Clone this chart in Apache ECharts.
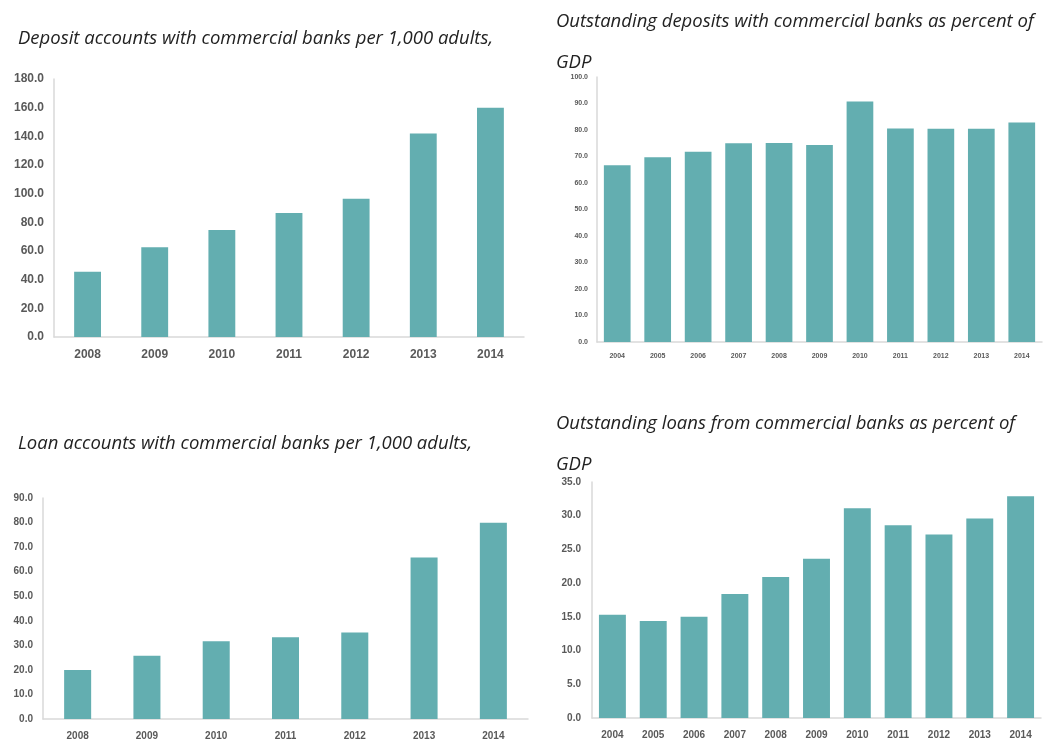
<!DOCTYPE html>
<html><head><meta charset="utf-8">
<script src="https://cdn.jsdelivr.net/npm/echarts@6/dist/echarts.min.js"></script>
<style>html,body{margin:0;padding:0;background:#fff}#c{width:1049px;height:744px}</style>
</head><body><div id="c"></div>
<script>
const years1 = ['2008','2009','2010','2011','2012','2013','2014'];
const depositAccounts = [45.6, 62.6, 74.7, 86.5, 96.5, 141.9, 160.0];
const years2 = ['2004','2005','2006','2007','2008','2009','2010','2011','2012','2013','2014'];
const depositsGDP = [66.7, 69.7, 71.8, 75.0, 75.1, 74.3, 90.8, 80.6, 80.5, 80.5, 82.8];
const loanAccounts = [20.0, 25.8, 31.7, 33.3, 35.2, 65.8, 79.9];
const loansGDP = [15.3, 14.4, 15.0, 18.4, 20.9, 23.6, 31.1, 28.6, 27.2, 29.6, 32.9];
const titles = [
  'Deposit accounts with commercial banks per 1,000 adults,',
  'Outstanding deposits with commercial banks as percent of\nGDP',
  'Loan accounts with commercial banks per 1,000 adults,',
  'Outstanding loans from commercial banks as percent of\nGDP'
];

const BAR = '#63aeb0';
const LBL = '#595959';
const AX = '#d9d9d9';
const chart = echarts.init(document.getElementById('c'));

function titleCfg(text, left, top) {
  return { text, left, top, padding: 0, textStyle: { fontFamily: 'Open Sans', fontStyle: 'italic', fontWeight: 'normal', fontSize: 18.5, color: '#222', lineHeight: 41 } };
}
function xAx(gi, data, fs, margin) {
  return { type: 'category', gridIndex: gi, data, axisTick: { show: false },
    axisLine: { lineStyle: { color: AX, width: 1.5 } },
    axisLabel: { color: LBL, fontFamily: 'Liberation Sans', fontWeight: 'bold', fontSize: fs, margin } };
}
function yAx(gi, max, interval, fs, margin) {
  return { type: 'value', gridIndex: gi, min: 0, max, interval, splitLine: { show: false },
    axisLine: { show: true, lineStyle: { color: AX, width: 1.5 } }, axisTick: { show: false },
    axisLabel: { color: LBL, fontFamily: 'Liberation Sans', fontWeight: 'bold', fontSize: fs, margin, formatter: v => v.toFixed(1) } };
}
function bar(i, data, gap) {
  return { type: 'bar', xAxisIndex: i, yAxisIndex: i, data, barCategoryGap: gap,
    itemStyle: { color: BAR }, silent: true };
}

chart.setOption({
  animation: false,
  title: [
    titleCfg(titles[0], 18, 18),
    titleCfg(titles[1], 556, 1),
    titleCfg(titles[2], 18, 423),
    titleCfg(titles[3], 556, 403)
  ],
  grid: [
    { left: 54, top: 79, width: 470, height: 258 },
    { left: 597, top: 77, width: 445, height: 265 },
    { left: 43, top: 498, width: 485, height: 221 },
    { left: 592, top: 482, width: 449, height: 236 }
  ],
  xAxis: [ xAx(0, years1, 12, 12), xAx(1, years2, 7, 11), xAx(2, years1, 10, 12), xAx(3, years2, 10, 12) ],
  yAxis: [ yAx(0, 180, 20, 12, 10), yAx(1, 100, 10, 7, 9), yAx(2, 90, 10, 10, 10), yAx(3, 35, 5, 10, 11) ],
  series: [ bar(0, depositAccounts, '60%'), bar(1, depositsGDP, '34%'), bar(2, loanAccounts, '61%'), bar(3, loansGDP, '34%') ]
});
</script></body></html>
